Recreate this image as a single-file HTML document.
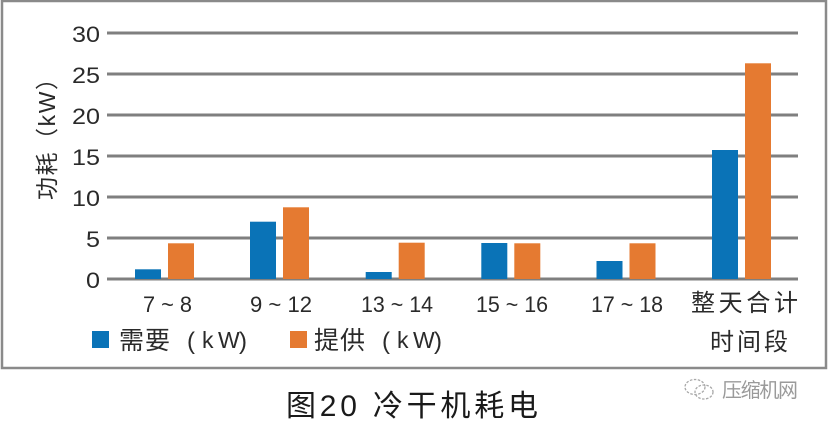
<!DOCTYPE html>
<html>
<head>
<meta charset="utf-8">
<style>
  html,body{margin:0;padding:0;background:#fff;}
  svg{display:block;}
  text{font-family:"Liberation Sans","Noto Sans CJK SC",sans-serif;fill:#2a2a2a;}
</style>
</head>
<body>
<svg width="828" height="425" viewBox="0 0 828 425" xmlns="http://www.w3.org/2000/svg">
  <rect x="0" y="0" width="828" height="425" fill="#fff"/>
  <!-- frame -->
  <rect x="2" y="1" width="824" height="367" fill="none" stroke="#8a8a8a" stroke-width="2.5"/>

  <!-- gridlines -->
  <g stroke="#7f7f7f" stroke-width="3">
    <line x1="107" y1="33" x2="798" y2="33"/>
    <line x1="107" y1="74" x2="798" y2="74"/>
    <line x1="107" y1="115" x2="798" y2="115"/>
    <line x1="107" y1="156" x2="798" y2="156"/>
    <line x1="107" y1="197" x2="798" y2="197"/>
    <line x1="107" y1="238" x2="798" y2="238"/>
    <line x1="107" y1="279" x2="798" y2="279"/>
  </g>

  <!-- y tick labels -->
  <g font-size="22" text-anchor="end" style="fill:#333">
    <text x="100" y="42" textLength="28" lengthAdjust="spacingAndGlyphs">30</text>
    <text x="100" y="83" textLength="28" lengthAdjust="spacingAndGlyphs">25</text>
    <text x="100" y="124" textLength="28" lengthAdjust="spacingAndGlyphs">20</text>
    <text x="100" y="165" textLength="28" lengthAdjust="spacingAndGlyphs">15</text>
    <text x="100" y="206" textLength="28" lengthAdjust="spacingAndGlyphs">10</text>
    <text x="100" y="247" textLength="14" lengthAdjust="spacingAndGlyphs">5</text>
    <text x="100" y="288" textLength="14" lengthAdjust="spacingAndGlyphs">0</text>
  </g>

  <!-- y axis title -->
  <text transform="translate(55,200) rotate(-90)" font-size="23" textLength="133" lengthAdjust="spacing">功耗（kW）</text>

  <!-- bars -->
  <g fill="#0a73b7">
    <rect x="135" y="269.3" width="26" height="9.7"/>
    <rect x="250" y="221.7" width="26" height="57.3"/>
    <rect x="365.7" y="272" width="26" height="7"/>
    <rect x="481.3" y="243" width="26" height="36"/>
    <rect x="596.5" y="261" width="26" height="18"/>
    <rect x="712" y="150" width="26" height="129"/>
  </g>
  <g fill="#e57a31">
    <rect x="168" y="243.3" width="26" height="35.7"/>
    <rect x="283" y="207.3" width="26" height="71.7"/>
    <rect x="398.7" y="242.7" width="26" height="36.3"/>
    <rect x="514.3" y="243.3" width="26" height="35.7"/>
    <rect x="629.5" y="243.3" width="26" height="35.7"/>
    <rect x="745" y="63.3" width="26" height="215.7"/>
  </g>

  <!-- x labels -->
  <g font-size="22" style="fill:#333">
    <text x="143" y="312" textLength="49" lengthAdjust="spacingAndGlyphs">7 ~ 8</text>
    <text x="250" y="312" textLength="62" lengthAdjust="spacingAndGlyphs">9 ~ 12</text>
    <text x="361" y="312" textLength="72" lengthAdjust="spacingAndGlyphs">13 ~ 14</text>
    <text x="476" y="312" textLength="72" lengthAdjust="spacingAndGlyphs">15 ~ 16</text>
    <text x="591" y="312" textLength="72" lengthAdjust="spacingAndGlyphs">17 ~ 18</text>
  </g>
  <text x="691" y="311" font-size="24" textLength="107" lengthAdjust="spacing">整天合计</text>
  <text x="710" y="350" font-size="24" textLength="78" lengthAdjust="spacing">时间段</text>

  <!-- legend -->
  <rect x="92" y="331" width="17" height="17" fill="#0a73b7"/>
  <text x="119" y="349" font-size="25" textLength="51" lengthAdjust="spacing">需要</text>
  <text x="187" y="349" font-size="24">(</text>
  <text x="202" y="348" font-size="23">k</text>
  <text x="218" y="348" font-size="23">W</text>
  <text x="239" y="349" font-size="24">)</text>

  <rect x="290" y="331" width="17" height="17" fill="#e57a31"/>
  <text x="314" y="349" font-size="25" textLength="51" lengthAdjust="spacing">提供</text>
  <text x="382" y="349" font-size="24">(</text>
  <text x="397" y="348" font-size="23">k</text>
  <text x="413" y="348" font-size="23">W</text>
  <text x="434" y="349" font-size="24">)</text>

  <!-- caption -->
  <text x="286" y="416" font-size="30" textLength="252" lengthAdjust="spacing" style="fill:#1a1a1a">图20 冷干机耗电</text>

  <!-- watermark -->
  <g fill="none" stroke="#a8a8a8" stroke-width="1.3" stroke-dasharray="2.5 1.5">
    <ellipse cx="695" cy="387" rx="10" ry="7.5"/>
    <ellipse cx="704" cy="392" rx="9" ry="7"/>
  </g>
  <text x="722" y="397" font-size="20" textLength="76" lengthAdjust="spacing" style="fill:#9a9a9a">压缩机网</text>
</svg>
</body>
</html>
